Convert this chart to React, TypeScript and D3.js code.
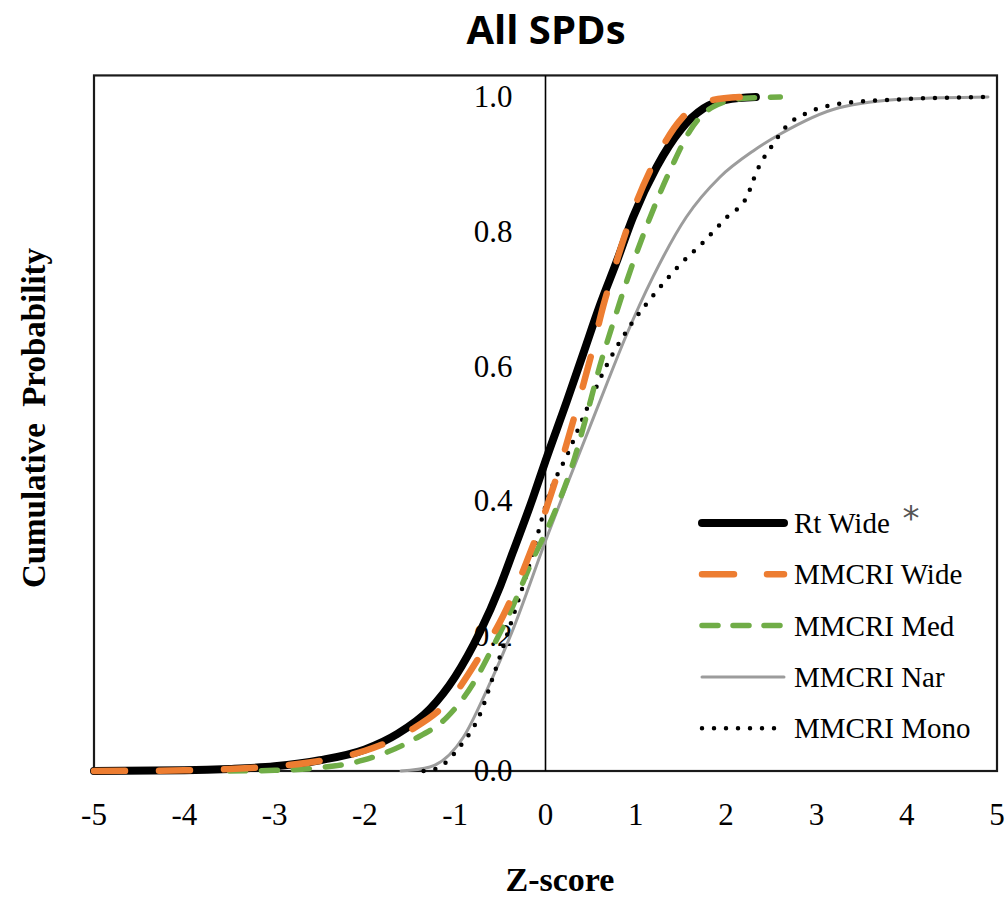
import { useRef, useEffect } from "react";
import * as d3 from "d3";

// values (z-score, cumulative probability)
const rtWideZ = [-5, -4, -3.5, -3, -2.5, -2, -1.64, -1.28, -1.0, -0.73, -0.5, -0.36, -0.14, 0, 0.24, 0.42, 0.6, 0.8, 0.97, 1.23, 1.5, 1.75, 2.0, 2.33];
const rtWideP = [0, 0.001, 0.003, 0.007, 0.016, 0.032, 0.055, 0.092, 0.14, 0.205, 0.275, 0.325, 0.405, 0.46, 0.55, 0.62, 0.69, 0.76, 0.822, 0.896, 0.952, 0.983, 0.996, 1.0];

const mmcriWideZ = [-5, -4, -3, -2.5, -2, -1.5, -1.02, -0.73, -0.47, -0.21, 0.01, 0.2, 0.35, 0.5, 0.64, 0.75, 1.01, 1.23, 1.52, 1.8, 2.15];
const mmcriWideP = [0, 0.001, 0.007, 0.015, 0.03, 0.06, 0.112, 0.17, 0.23, 0.31, 0.39, 0.47, 0.54, 0.614, 0.69, 0.74, 0.845, 0.91, 0.97, 0.994, 1.0];

const mmcriMedZ = [-3.5, -3, -2.57, -2.02, -1.47, -1.09, -0.8, -0.58, -0.36, -0.17, 0.12, 0.3, 0.46, 0.6, 0.75, 0.9, 1.16, 1.41, 1.6, 1.85, 2.2, 2.6];
const mmcriMedP = [0, 0.001, 0.004, 0.016, 0.046, 0.08, 0.13, 0.185, 0.245, 0.305, 0.39, 0.455, 0.53, 0.6, 0.665, 0.727, 0.822, 0.9, 0.95, 0.985, 0.998, 1.0];

const mmcriNarZ = [-1.6, -1.28, -0.91, -0.65, -0.5, -0.36, 0.01, 0.24, 0.46, 0.68, 0.9, 1.19, 1.56, 1.93, 2.3, 2.6, 3.25, 4.0, 4.9];
const mmcriNarP = [0, 0.006, 0.05, 0.12, 0.165, 0.21, 0.345, 0.425, 0.5, 0.575, 0.648, 0.733, 0.822, 0.881, 0.92, 0.945, 0.984, 0.997, 1.0];

const mmcriMonoZ = [-1.35, -1.2, -0.95, -0.72, -0.58, -0.43, -0.18, 0.04, 0.26, 0.45, 0.67, 0.96, 1.19, 1.48, 1.75, 2.01, 2.23, 2.34, 2.52, 2.67, 2.89, 3.26, 4.0, 4.9];
const mmcriMonoP = [0, 0.004, 0.036, 0.086, 0.14, 0.2, 0.305, 0.41, 0.475, 0.535, 0.6, 0.665, 0.705, 0.75, 0.785, 0.822, 0.852, 0.89, 0.93, 0.957, 0.976, 0.99, 0.997, 1.0];

const seriesNames = ["Rt Wide", "MMCRI Wide", "MMCRI Med", "MMCRI Nar", "MMCRI Mono"];
const xTicks = [-5, -4, -3, -2, -1, 0, 1, 2, 3, 4, 5];
const yTicks = [0, 0.2, 0.4, 0.6, 0.8, 1.0];

const styles = [
  { color: "#000000", width: 8, dash: null, cap: "round" },
  { color: "#ED7D31", width: 6.5, dash: "31 34", cap: "round" },
  { color: "#70AD47", width: 5.5, dash: "16 16", cap: "round" },
  { color: "#9C9C9C", width: 3, dash: null, cap: "round" },
  { color: "#000000", width: 4.5, dash: "0 12", cap: "round" },
];

export default function App() {
  const ref = useRef(null);
  const width = 1008;
  const height = 899;

  useEffect(() => {
    const svg = d3.select(ref.current);
    svg.selectAll("*").remove();

    const x = d3.scaleLinear().domain([-5, 5]).range([94, 997]);
    const y = d3.scaleLinear().domain([0, 1]).range([771, 97]);
    const serif = "'Liberation Serif', 'Times New Roman', serif";

    const series = [
      d3.zip(rtWideZ, rtWideP),
      d3.zip(mmcriWideZ, mmcriWideP),
      d3.zip(mmcriMedZ, mmcriMedP),
      d3.zip(mmcriNarZ, mmcriNarP),
      d3.zip(mmcriMonoZ, mmcriMonoP),
    ];

    svg.append("text")
      .attr("x", 546).attr("y", 44)
      .attr("text-anchor", "middle")
      .attr("font-family", "'Open Sans', sans-serif")
      .attr("font-weight", 700)
      .attr("font-size", 40)
      .text("All SPDs");

    // plot frame
    svg.append("rect")
      .attr("x", x(-5)).attr("y", y(1.032))
      .attr("width", x(5) - x(-5)).attr("height", y(0) - y(1.032))
      .attr("fill", "none").attr("stroke", "#1a1a1a").attr("stroke-width", 2.2);

    // vertical axis at z = 0
    svg.append("line")
      .attr("x1", x(0)).attr("x2", x(0))
      .attr("y1", y(1.032)).attr("y2", y(0))
      .attr("stroke", "#000").attr("stroke-width", 1.6);

    svg.append("g").selectAll("text")
      .data(yTicks).join("text")
      .attr("x", x(0) - 33).attr("y", (d) => y(d) + 10)
      .attr("text-anchor", "end")
      .attr("font-family", serif).attr("font-size", 31)
      .text((d) => d.toFixed(1));

    svg.append("g").selectAll("text")
      .data(xTicks).join("text")
      .attr("x", (d) => x(d)).attr("y", 825)
      .attr("text-anchor", "middle")
      .attr("font-family", serif).attr("font-size", 31)
      .text((d) => d);

    const line = d3.line()
      .x((d) => x(d[0]))
      .y((d) => y(d[1]))
      .curve(d3.curveMonotoneX);

    // draw back to front so the black line sits under the dashes
    const order = [3, 4, 0, 2, 1];
    order.forEach((i) => {
      const s = styles[i];
      svg.append("path")
        .datum(series[i])
        .attr("d", line)
        .attr("fill", "none")
        .attr("stroke", s.color)
        .attr("stroke-width", s.width)
        .attr("stroke-linecap", s.cap)
        .attr("stroke-linejoin", "round")
        .attr("stroke-dasharray", s.dash);
    });

    // legend
    const legend = svg.append("g");
    seriesNames.forEach((name, i) => {
      const s = styles[i];
      const ly = 523 + i * 51.3;
      legend.append("line")
        .attr("x1", 702).attr("x2", 784)
        .attr("y1", ly).attr("y2", ly)
        .attr("stroke", s.color)
        .attr("stroke-width", s.width)
        .attr("stroke-linecap", s.cap)
        .attr("stroke-dasharray", i === 1 ? "32 33" : i === 2 ? "16 15" : s.dash);
      legend.append("text")
        .attr("x", 794).attr("y", ly + 10)
        .attr("font-family", serif).attr("font-size", 29)
        .text(name);
    });
    legend.append("text")
      .attr("x", 911).attr("y", 530)
      .attr("text-anchor", "middle")
      .attr("font-family", "'DejaVu Sans', sans-serif")
      .attr("font-size", 34)
      .attr("fill", "#555")
      .text("*");

    svg.append("text")
      .attr("transform", "translate(45,418) rotate(-90)")
      .attr("text-anchor", "middle")
      .attr("font-family", serif).attr("font-weight", 700)
      .attr("font-size", 33)
      .attr("word-spacing", 8)
      .text("Cumulative Probability");

    svg.append("text")
      .attr("x", 560).attr("y", 891)
      .attr("text-anchor", "middle")
      .attr("font-family", serif).attr("font-weight", 700)
      .attr("font-size", 34)
      .text("Z-score");
  }, []);

  return (
    <svg
      ref={ref}
      width={width}
      height={height}
      style={{ position: "absolute", left: 0, top: 0, background: "white" }}
    />
  );
}
